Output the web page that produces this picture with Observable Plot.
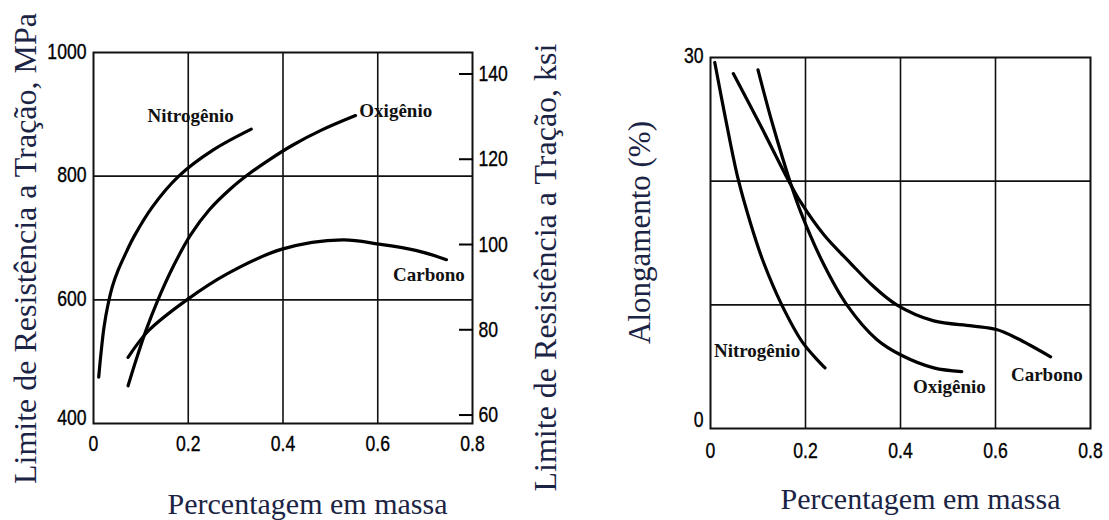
<!DOCTYPE html>
<html><head><meta charset="utf-8">
<script src="https://cdn.jsdelivr.net/npm/d3@7"></script>
<script src="https://cdn.jsdelivr.net/npm/@observablehq/plot@0.6"></script>
<style>
html,body{margin:0;padding:0;background:#fff;}
#wrap{display:flex;width:1109px;height:520px;overflow:hidden;}
</style></head><body><div id="wrap"></div>
<script>
// ---------- data ----------
const xTicks = [0, 0.2, 0.4, 0.6, 0.8];
const xTickLabels = ["0", "0.2", "0.4", "0.6", "0.8"];
const xGrid = [0.2, 0.4, 0.6];

// Left: tensile strength (MPa)
const strengthTicks = [600, 800, 1000];
const strengthBottomTick = [400];
const strengthGrid = [600, 800];
const ksiTicks = [60, 80, 100, 120, 140];
const MPA_PER_KSI = 6.894757;

const nitroStrX = [0.011, 0.016, 0.022, 0.030, 0.040, 0.052, 0.066, 0.086, 0.124, 0.180, 0.252, 0.333];
const nitroStrY = [475, 515, 555, 590, 622, 648, 672, 703, 750, 800, 842, 876];
const oxyStrX = [0.073, 0.090, 0.110, 0.135, 0.169, 0.205, 0.245, 0.290, 0.327, 0.370, 0.420, 0.480, 0.553];
const oxyStrY = [461, 503, 549, 598, 655, 705, 746, 780, 803, 826, 850, 874, 898];
const carbStrX = [0.073, 0.116, 0.197, 0.282, 0.398, 0.526, 0.603, 0.680, 0.745];
const carbStrY = [507, 550, 600, 642, 682, 697, 690, 680, 665];

const strengthLabelNames = ["Nitrogênio", "Oxigênio", "Carbono"];
const strengthLabelX = [0.205, 0.638, 0.708];
const strengthLabelY = [897, 905, 640];

// Right: elongation (%)
const elongTicks = [30];
const elongBottomTick = [0];
const elongGrid = [10, 20];
const nitroElX = [0.009, 0.032, 0.058, 0.085, 0.111, 0.150, 0.195, 0.241];
const nitroElY = [29.6, 25.0, 20.2, 16.5, 13.5, 10.0, 6.9, 4.9];
const oxyElX = [0.100, 0.130, 0.168, 0.190, 0.238, 0.287, 0.350, 0.403, 0.470, 0.529];
const oxyElY = [29.0, 24.7, 19.9, 17.5, 13.3, 10.0, 7.2, 5.9, 4.9, 4.6];
const carbElX = [0.048, 0.104, 0.165, 0.190, 0.240, 0.294, 0.340, 0.392, 0.470, 0.550, 0.602, 0.645, 0.716];
const carbElY = [28.7, 24.6, 20.0, 18.3, 15.6, 13.4, 11.6, 10.0, 8.7, 8.3, 8.0, 7.3, 5.8];

const elongLabelNames = ["Nitrogênio", "Oxigênio", "Carbono"];
const elongLabelX = [0.098, 0.503, 0.708];
const elongLabelY = [6.3, 3.35, 4.3];

const xTitle = "Percentagem em massa";
const yTitleMPa = "Limite de Resistência a Tração, MPa";
const yTitleKsi = "Limite de Resistência a Tração, ksi";
const yTitleElong = "Alongamento (%)";

// ---------- build tables ----------
function rows(name, xs, ys) { return xs.map((x, i) => ({series: name, x, y: ys[i]})); }
const strengthRows = [
  ...rows("Nitrogênio", nitroStrX, nitroStrY),
  ...rows("Oxigênio", oxyStrX, oxyStrY),
  ...rows("Carbono", carbStrX, carbStrY)
];
const elongRows = [
  ...rows("Nitrogênio", nitroElX, nitroElY),
  ...rows("Oxigênio", oxyElX, oxyElY),
  ...rows("Carbono", carbElX, carbElY)
];
const strengthLabels = strengthLabelNames.map((t, i) => ({t, x: strengthLabelX[i], y: strengthLabelY[i]}));
const elongLabels = elongLabelNames.map((t, i) => ({t, x: elongLabelX[i], y: elongLabelY[i]}));

const tickFont = "'Liberation Sans',Arial,sans-serif";
const serif = "'Liberation Serif','Times New Roman',serif";
const titleColor = "#1b2444";
const ink = "#111";
const fmtX = d => xTickLabels[xTicks.indexOf(d)];
const fmtInt = d => String(d);
const titleStyle = {textAnchor: "middle", lineAnchor: "middle", fontFamily: serif, fill: titleColor, text: d => d};

const left = Plot.plot({
  width: 590, height: 520,
  marginLeft: 93, marginRight: 118, marginTop: 52, marginBottom: 97,
  style: {fontFamily: tickFont, fontSize: "22px", color: "#000", background: "white", overflow: "visible"},
  x: {domain: [0, 0.8]},
  y: {domain: [400, 1000]},
  marks: [
    Plot.gridX({ticks: xGrid, stroke: ink, strokeOpacity: 1, strokeWidth: 1.6}),
    Plot.gridY({ticks: strengthGrid, stroke: ink, strokeOpacity: 1, strokeWidth: 1.6}),
    Plot.frame({stroke: ink, strokeWidth: 2}),
    Plot.axisX({ticks: xTicks, tickFormat: fmtX, tickSize: 0, tickPadding: 12, label: null}),
    Plot.axisY({anchor: "left", ticks: strengthTicks, tickFormat: fmtInt, tickSize: 0, tickPadding: 7, dy: -1, label: null}),
    Plot.axisY({anchor: "left", ticks: strengthBottomTick, tickFormat: fmtInt, tickSize: 0, tickPadding: 7, dy: -6, label: null}),
    Plot.axisY({anchor: "right", ticks: ksiTicks.map(k => k * MPA_PER_KSI),
      tickFormat: d => String(Math.round(d / MPA_PER_KSI)), tickSize: -14, tickPadding: 20,
      strokeWidth: 2, label: null}),
    Plot.line(strengthRows, {x: "x", y: "y", z: "series", stroke: "#000", strokeWidth: 3.2, curve: "catmull-rom"}),
    Plot.text(strengthLabels, {x: "x", y: "y", text: "t", fontFamily: serif, fontWeight: "bold", fontSize: 19, fill: "#111"}),
    Plot.text([yTitleMPa], {...titleStyle, frameAnchor: "left", rotate: -90, dx: -68, dy: 10.5, fontSize: 32}),
    Plot.text([yTitleKsi], {...titleStyle, frameAnchor: "right", rotate: -90, dx: 73, dy: 29.5, fontSize: 32}),
    Plot.text([xTitle], {...titleStyle, frameAnchor: "bottom", dx: 24.5, dy: 81, fontSize: 30})
  ]
});

const right = Plot.plot({
  width: 519, height: 520,
  marginLeft: 120, marginRight: 19, marginTop: 57, marginBottom: 92,
  style: {fontFamily: tickFont, fontSize: "22px", color: "#000", background: "white", overflow: "visible"},
  x: {domain: [0, 0.8]},
  y: {domain: [0, 30]},
  marks: [
    Plot.gridX({ticks: xGrid, stroke: ink, strokeOpacity: 1, strokeWidth: 1.6}),
    Plot.gridY({ticks: elongGrid, stroke: ink, strokeOpacity: 1, strokeWidth: 1.6}),
    Plot.frame({stroke: ink, strokeWidth: 2}),
    Plot.axisX({ticks: xTicks, tickFormat: fmtX, tickSize: 0, tickPadding: 14, label: null}),
    Plot.axisY({anchor: "left", ticks: elongTicks, tickFormat: fmtInt, tickSize: 0, tickPadding: 7, dy: -2, label: null}),
    Plot.axisY({anchor: "left", ticks: elongBottomTick, tickFormat: fmtInt, tickSize: 0, tickPadding: 7, dy: -9, label: null}),
    Plot.line(elongRows, {x: "x", y: "y", z: "series", stroke: "#000", strokeWidth: 3.2, curve: "catmull-rom"}),
    Plot.text(elongLabels, {x: "x", y: "y", text: "t", fontFamily: serif, fontWeight: "bold", fontSize: 19, fill: "#111"}),
    Plot.text([yTitleElong], {...titleStyle, frameAnchor: "left", rotate: -90, dx: -70, dy: -10.5, fontSize: 31}),
    Plot.text([xTitle], {...titleStyle, frameAnchor: "bottom", dx: 20, dy: 70.4, fontSize: 30})
  ]
});

// condense tick-label glyphs horizontally around their anchor (narrow, heavy sans of the original)
function squeeze(svg, k) {
  d3.select(svg).selectAll('g[aria-label$="tick label"] text').each(function () {
    const t = this.getAttribute("transform") || "";
    this.setAttribute("transform", `${t} scale(${k},1)`);
    this.setAttribute("stroke", "#000");
    this.setAttribute("stroke-width", "0.35");
  });
}
squeeze(left, 0.8);
squeeze(right, 0.8);

document.getElementById("wrap").append(left, right);
</script>
</body></html>
